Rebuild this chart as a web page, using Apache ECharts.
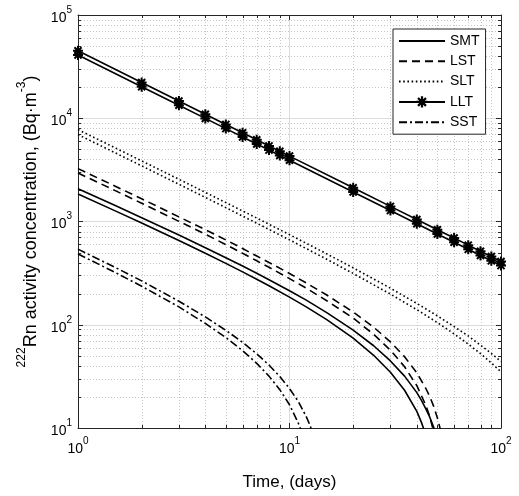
<!DOCTYPE html>
<html><head><meta charset="utf-8">
<script src="https://cdn.jsdelivr.net/npm/echarts@6/dist/echarts.min.js"></script>
<style>html,body{margin:0;padding:0;background:#fff}#c{width:519px;height:496px}</style>
</head><body><div id="c"></div>
<script>
// ---- data ----
const seriesNames = ['SMT','LST','SLT','LLT','SST'];

const tSMTup  = [1,1.5,2,3,4,5,6,7,8,10,12,15,20,25,30,35,40,42,44,46,48,50];
const smtUp   = [2080,1427,1089,739,558,446,370,315,273,213.5,173,131,88.8,62.6,44.6,31.8,22.0,18.6,15.5,12.8,10.2,7.9];
const tSMTlo  = [1,1.5,2,3,4,5,6,7,8,10,12,15,20,25,30,35,40,42,44,46];
const smtLo   = [1850,1267,966,654,492,393,325,276,239,185,149,112,74.1,50.6,34.7,23.2,14.5,11.4,8.7,6.2];

const tLSTup  = [1,1.5,2,3,4,5,6,7,8,10,12,15,20,25,30,35,40,44,46,48,50,52];
const lstUp   = [3250,2197,1659,1109,833,663,547,463,401,314,254,194,133,94.7,68.3,49.0,34.2,24.4,20.3,16.3,12.6,9.2];
const tLSTlo  = [1,1.5,2,3,4,5,6,7,8,10,12,15,20,25,30,35,40,44,46,48,50];
const lstLo   = [2950,1992,1503,1003,753,598,492,416,360,280,226,171,116,80.8,56.8,39.2,25.7,16.8,13.0,9.3,6.0];

const tSLT    = [1,1.5,2,3,4,5,7,10,15,20,30,40,50,60,70,80,90,100];
const sltUp   = [7760,5162,3863,2564,1915,1525,1080,746,486,356,226,161,122,96.0,77.9,63.5,52.7,44.0];
const sltLo   = [6950,4622,3458,2293,1711,1362,963,664,431,314,198,140,105,81.6,65.0,52.5,42.7,35.0];

const tLLT    = [1,2,3,4,5,6,7,8,9,10,20,30,40,50,60,70,80,90,100];
const lltUp   = [45000,22190,14674,10943,8715,7236,6183,5396,4785,4298,2119,1401,1045,832,691,590,515,457,410];
const lltLo   = [41000,20218,13370,9970,7940,6593,5633,4916,4360,3916,1931,1276,952,758,630,538,469,416,374];

const tSSTup  = [1,1.5,2,3,4,5,6,7,8,9,10,11,12,12.5,13];
const sstUp   = [540,359,266,169,119,88.4,67.5,52.3,40.7,31.5,24.1,18.1,12.9,10.6,8.5];
const tSSTlo  = [1,1.5,2,3,4,5,6,7,8,9,10,11,11.5];
const sstLo   = [485,321,236,149,103,75.2,56.1,42.3,31.8,23.5,16.8,11.2,8.8];

const xMinorTicks = [2,3,4,5,6,7,8,9,20,30,40,50,60,70,80,90];
const yMinorTicks = [20,30,40,50,60,70,80,90,200,300,400,500,600,700,800,900,
  2000,3000,4000,5000,6000,7000,8000,9000,20000,30000,40000,50000,60000,70000,80000,90000];

const X_MIN = 1, X_MAX = 100, Y_MIN = 10, Y_MAX = 100000;

// ---- chart ----
const FONT = '"Liberation Sans", Arial, Helvetica, sans-serif';
const AX = '#262626';
const zip = (t, v) => t.map((x, i) => [x, v[i]]);
const asterisk = 'path://M4 0L6 0L6 10L4 10Z M0 4L10 4L10 6L0 6Z M2.17 0.75L9.25 7.83L7.83 9.25L0.75 2.17Z M7.83 0.75L9.25 2.17L2.17 9.25L0.75 7.83Z';

function lineSeries(name, data, type, withSym) {
  return {
    name, type: 'line', data, z: 5, clip: true,
    symbol: withSym ? asterisk : 'none', symbolSize: 10, showSymbol: !!withSym,
    itemStyle: { color: '#000' },
    lineStyle: { color: '#000', width: 1.6, type },
    emphasis: { disabled: true }
  };
}
const richLab = {
  b: { fontSize: 14, fontFamily: FONT, color: '#000', verticalAlign: 'bottom', lineHeight: 20 },
  s: { fontSize: 10, fontFamily: FONT, color: '#000', verticalAlign: 'top', lineHeight: 20 }
};
const fmt = v => '{b|10}{s|' + Math.round(Math.log10(v)) + '}';
const hidden = { color: 'rgba(0,0,0,0)', opacity: 0, borderWidth: 0 };

const chart = echarts.init(document.getElementById('c'), null, { renderer: 'canvas' });
chart.setOption({
  animation: false,
  backgroundColor: '#fff',
  grid: { left: 78, right: 18, top: 15, bottom: 58 },
  legend: {
    data: seriesNames.map(n => n === 'LLT' ? { name: n } : { name: n, itemStyle: hidden }),
    orient: 'vertical', left: 393, top: 29,
    backgroundColor: '#fff', borderColor: AX, borderWidth: 1,
    padding: [5, 6, 5, 5], itemWidth: 46, itemHeight: 14, itemGap: 6.3,
    textStyle: { fontSize: 14, fontFamily: FONT, color: '#000' },
    z: 10
  },
  xAxis: [{
    type: 'log', logBase: 10, min: X_MIN, max: X_MAX, position: 'bottom',
    name: 'Time, (days)', nameLocation: 'middle', nameGap: 46,
    nameTextStyle: { fontSize: 17, fontFamily: FONT, color: '#000' },
    axisLine: { show: true, lineStyle: { color: AX, width: 1 } },
    axisTick: { show: true, inside: true, length: 5, lineStyle: { color: AX } },
    axisLabel: { formatter: fmt, rich: richLab, margin: 8 },
    splitLine: { show: true, lineStyle: { color: '#dcdcdc', width: 1 } }
  }, {
    type: 'log', logBase: 10, min: X_MIN, max: X_MAX, position: 'top',
    axisLine: { show: true, lineStyle: { color: AX, width: 1 } },
    axisTick: { show: true, inside: true, length: 5, lineStyle: { color: AX } },
    axisLabel: { show: false }, splitLine: { show: false }
  }],
  yAxis: [{
    type: 'log', logBase: 10, min: Y_MIN, max: Y_MAX, position: 'left',
    name: '{s|222}{b|Rn activity concentration, (Bq·m}{s|-3}{b|)}',
    nameLocation: 'middle', nameGap: 32, nameRotate: 90,
    nameTextStyle: {
      rich: {
        b: { fontSize: 18, fontFamily: FONT, color: '#000', verticalAlign: 'bottom', lineHeight: 24 },
        s: { fontSize: 12, fontFamily: FONT, color: '#000', verticalAlign: 'top', lineHeight: 24 }
      }
    },
    axisLine: { show: true, lineStyle: { color: AX, width: 1 } },
    axisTick: { show: true, inside: true, length: 5, lineStyle: { color: AX } },
    axisLabel: { formatter: fmt, rich: richLab, margin: 6 },
    splitLine: { show: true, lineStyle: { color: '#dcdcdc', width: 1 } }
  }, {
    type: 'log', logBase: 10, min: Y_MIN, max: Y_MAX, position: 'right',
    axisLine: { show: true, lineStyle: { color: AX, width: 1 } },
    axisTick: { show: true, inside: true, length: 5, lineStyle: { color: AX } },
    axisLabel: { show: false }, splitLine: { show: false }
  }],
  series: [
    {
      type: 'custom', name: 'yminor', z: 1, silent: true, clip: false,
      data: yMinorTicks.map(v => [X_MIN, v]),
      renderItem(params, api) {
        const v = api.value(1);
        const p0 = api.coord([X_MIN, v]), p1 = api.coord([X_MAX, v]);
        const y = Math.round(p0[1]) + 0.5;
        return { type: 'group', children: [
          { type: 'line', shape: { x1: p0[0], y1: y, x2: p1[0], y2: y }, style: { stroke: '#c4c4c4', lineWidth: 1, lineDash: [1, 2] } },
          { type: 'line', shape: { x1: p0[0], y1: y, x2: p0[0] + 3, y2: y }, style: { stroke: AX, lineWidth: 1 } },
          { type: 'line', shape: { x1: p1[0], y1: y, x2: p1[0] - 3, y2: y }, style: { stroke: AX, lineWidth: 1 } }
        ]};
      }
    },
    {
      type: 'custom', name: 'xminor', z: 1, silent: true, clip: false,
      data: xMinorTicks.map(v => [v, Y_MIN]),
      renderItem(params, api) {
        const v = api.value(0);
        const p0 = api.coord([v, Y_MIN]), p1 = api.coord([v, Y_MAX]);
        const x = Math.round(p0[0]) + 0.5;
        return { type: 'group', children: [
          { type: 'line', shape: { x1: x, y1: p0[1], x2: x, y2: p1[1] }, style: { stroke: '#c4c4c4', lineWidth: 1, lineDash: [1, 2] } },
          { type: 'line', shape: { x1: x, y1: p0[1], x2: x, y2: p0[1] - 3 }, style: { stroke: AX, lineWidth: 1 } },
          { type: 'line', shape: { x1: x, y1: p1[1], x2: x, y2: p1[1] + 3 }, style: { stroke: AX, lineWidth: 1 } }
        ]};
      }
    },
    lineSeries('SMT', zip(tSMTup, smtUp), 'solid'),
    lineSeries('SMT lower', zip(tSMTlo, smtLo), 'solid'),
    lineSeries('LST', zip(tLSTup, lstUp), [8, 5]),
    lineSeries('LST lower', zip(tLSTlo, lstLo), [8, 5]),
    lineSeries('SLT', zip(tSLT, sltUp), [1.6, 2.6]),
    lineSeries('SLT lower', zip(tSLT, sltLo), [1.6, 2.6]),
    lineSeries('LLT', zip(tLLT, lltUp), 'solid', true),
    lineSeries('LLT lower', zip(tLLT, lltLo), 'solid', true),
    lineSeries('SST', zip(tSSTup, sstUp), [8, 3, 2, 3]),
    lineSeries('SST lower', zip(tSSTlo, sstLo), [8, 3, 2, 3])
  ]
});
</script></body></html>
